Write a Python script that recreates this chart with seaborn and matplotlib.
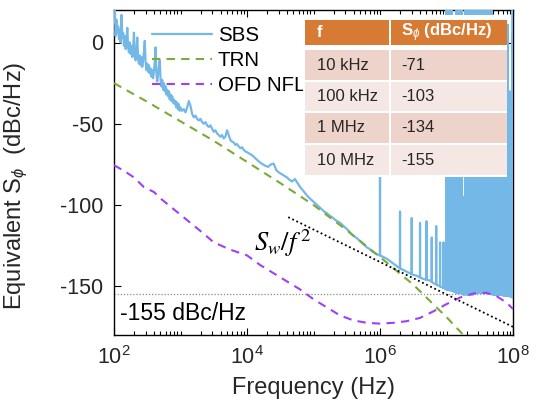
import numpy as np
import matplotlib
matplotlib.use("Agg")
import matplotlib.pyplot as plt
import seaborn as sns
from matplotlib.ticker import LogLocator, FixedLocator, NullFormatter, LogFormatterMathtext
from matplotlib.patches import Rectangle

# ---------------- data ----------------
# SBS phase-noise trace: log10(frequency) segments and dBc/Hz values
sbs_seg1_db = [12, 20, 4, 14, 6, 10, 2, 8, 0, 17, 3, 6, -2, 4, -4, 1, 9, -3, -6, 0,
               -7, -2, -9, -4, 6, -8, -11, -5, 3, -10, -13, -8, -14, -9, -15, -11, -6, 1, -12, -17,
               -13, -18, -14, -19, -16, -21, -17, -22, -18, -12, -3, -19, -24, -20, -15, -11, -22, -27, -23, -29,
               -25, -30, -27, -32, -29, -33, -30, -35, -32, -36, -33, -37, -35, -38, -36, -40, -37, -41, -38, -42,
               -40]  # log f 2.0 .. 3.0
sbs_seg2_db = [-42, -41, -43, -40, -36, -39, -44, -46, -45, -47, -48, -47, -49, -50, -49, -51, -52, -51, -53, -55,
               -54, -56, -57, -58, -57, -59, -58, -54, -57, -60, -61, -61.5, -63, -62.5, -64, -65, -64.5, -66, -67, -67.5]  # 3.025 .. 4.0
sbs_seg3_db = [-68.5, -69.5, -71, -72.5, -74, -75, -76, -76.5, -75, -74.5, -78.5, -80, -81, -82, -83, -84.5, -85.5, -84, -86.5, -89,
               -91, -93, -95, -96.5, -98, -99.5, -101, -102.5, -104, -105, -106.5, -107.5, -109, -110, -111, -112.5, -114, -115.5, -117.5, -119,
               -120, -121.5, -123, -124.5, -126, -127, -128.5, -129.5, -130.5, -131]  # 4.04 .. 6.0
sbs_seg4_db = [-132, -133, -134.5, -136, -137.5, -139, -140, -141, -142, -143, -143.5, -144.5, -145.5, -146, -146.5, -148, -149, -150, -151, -152,
               -152.5, -153, -154, -154, -155, -155, -155, -155, -154, -154, -154, -154, -154.5, -155, -155, -155, -155.5, -156, -156, -157]  # 6.05 .. 8.0
sbs_logf = np.concatenate([np.linspace(2.0, 3.0, 81), np.linspace(3.025, 4.0, 40),
                           np.linspace(4.04, 6.0, 50), np.linspace(6.05, 8.0, 40)])
sbs_db = np.array(sbs_seg1_db + sbs_seg2_db + sbs_seg3_db + sbs_seg4_db, dtype=float)

# SBS spurs at harmonics of 1 MHz (peak level, dBc/Hz)
spur_mhz = list(range(1, 101))
spur_top = [-82, -104, -108, -111, -110, -120, -113, -123, -123,
            25, 25, 25, -60, 25, 25, 25, 25, -95, 25,
            25, 25, 25, -40, 25, 25, 25, 25, 25, -70,
            25, 25, 25, 25, -50, 25, 25, 25, 25, 25,
            -30, 25, 25, 25, 25, 25, 25, -10, 25, -20,
            -15, -40, -25, -60, -30, -45, -20, -70, -35, -50,
            -30, -55, -25, -45, -60, -35, -50, -20, -40, -65,
            -30, -45, -55, -25, -50, -40, -60, -30, -45, -35,
            -55, -40, -20, 11, -45, -35, -60, -30, -50, -40,
            -55, -35, -45, -60, -30, -50, -40, -20, 5, 25, -70]

# Thermorefractive noise (TRN)
trn_logf = [2.0, 2.5, 3.0, 3.5, 4.0, 4.5, 5.0, 5.5, 6.0, 6.5, 7.0, 7.3]
trn_db = [-25, -36.5, -48.5, -60.5, -73.5, -86.5, -100, -115.5, -132, -149, -169, -182]

# OFD noise floor
ofd_logf = [2.0, 2.15, 2.3, 2.45, 2.6, 2.7, 2.85, 3.0, 3.15, 3.3, 3.5, 3.75, 4.0, 4.2, 4.4, 4.6, 4.8,
            5.0, 5.2, 5.4, 5.6, 5.8, 6.0, 6.2, 6.4, 6.6, 6.8, 7.0, 7.2, 7.4, 7.6, 7.75, 7.9, 8.0]
ofd_db = [-75.5, -79, -83, -89, -92, -96, -101, -106, -111, -116, -123, -127.5, -131, -137, -142, -147, -152,
          -158, -163, -168, -171, -172.5, -173, -172.5, -171.5, -169.5, -165.5, -161, -157, -154.5, -154, -156, -160, -164]

# S_w / f^2 asymptote
sw_logf = [4.62, 8.0]
sw_db = [-107.5, -175]

floor_db = -155
floor_label = "-155 dBc/Hz"

table_freq = ["10 kHz", "100 kHz", "1 MHz", "10 MHz"]
table_val = ["-71", "-103", "-134", "-155"]
table_head = ["f", r"S$_{\phi}$ (dBc/Hz)"]

xticks = [1e2, 1e4, 1e6, 1e8]
yticks = [-150, -100, -50, 0]

# ---------------- build SBS trace with spurs ----------------
base_f = 10 ** sbs_logf
spur_f = np.array(spur_mhz, dtype=float) * 1e6
w = 0.002
keep = np.ones_like(base_f, dtype=bool)
for sf in spur_f:
    keep &= np.abs(base_f - sf) > 1.5 * w * sf
bf = base_f[keep]
bd = sbs_db[keep]
foot = np.interp(np.log10(spur_f), sbs_logf, sbs_db)
xs = np.concatenate([bf, spur_f * (1 - w), spur_f, spur_f * (1 + w)])
ys = np.concatenate([bd, foot, np.array(spur_top, dtype=float), foot])
order = np.argsort(xs, kind="stable")
xs, ys = xs[order], ys[order]

# ---------------- style ----------------
sns.set_theme(style="ticks")
plt.rcParams["font.family"] = ["Liberation Sans", "DejaVu Sans"]
plt.rcParams["mathtext.fontset"] = "custom"
plt.rcParams["mathtext.rm"] = "Liberation Sans"
plt.rcParams["mathtext.it"] = "Liberation Sans:italic"
plt.rcParams["mathtext.bf"] = "Liberation Sans:bold"
plt.rcParams["axes.unicode_minus"] = False
txt = "#262626"

W, H = 545, 413
fig = plt.figure(figsize=(W / 100, H / 100), dpi=100)
def fx(px): return px / W
def fy(py): return 1 - py / H
ax = fig.add_axes([fx(114), fy(335), (513 - 114) / W, (335 - 10) / H])

c_sbs = "#74B8E8"
c_trn = "#7BAA35"
c_ofd = "#A040F5"

sns.lineplot(x=xs, y=ys, ax=ax, color=c_sbs, lw=1.6, estimator=None, sort=False, label="SBS", zorder=3)
sns.lineplot(x=10 ** np.array(trn_logf), y=trn_db, ax=ax, color=c_trn, lw=1.5, estimator=None,
             sort=False, label="TRN", dashes=False, zorder=4)
sns.lineplot(x=10 ** np.array(ofd_logf), y=ofd_db, ax=ax, color=c_ofd, lw=1.5, estimator=None,
             sort=False, label="OFD NFL", dashes=False, zorder=4)
ax.lines[1].set_dashes((4, 3))
ax.lines[2].set_dashes((4, 3))
sns.lineplot(x=10 ** np.array(sw_logf), y=sw_db, ax=ax, color="black", lw=1.3, estimator=None,
             sort=False, zorder=5)
ax.lines[3].set_linestyle((0, (1, 1.5)))
ax.axhline(floor_db, color="#8a8a8a", lw=0.9, ls=(0, (1, 1.5)), zorder=2)

ax.set_xscale("log")
ax.set_xlim(1e2, 1e8)
ax.set_ylim(-180, 20)
ax.xaxis.set_major_locator(FixedLocator(xticks))
ax.xaxis.set_major_formatter(LogFormatterMathtext())
ax.xaxis.set_minor_locator(LogLocator(base=10, subs=np.arange(1, 10) * 1.0, numticks=100))
ax.xaxis.set_minor_formatter(NullFormatter())
ax.set_yticks(yticks)
ax.tick_params(axis="both", which="both", direction="in", top=True, right=True,
               colors="black", labelcolor=txt, labelsize=15.5, width=0.8)
ax.tick_params(axis="both", which="major", length=5, pad=8)
ax.tick_params(axis="both", which="minor", length=3)
for s in ax.spines.values():
    s.set_color("black")
    s.set_linewidth(1.0)

ax.set_xlabel("Frequency (Hz)", fontsize=17, color=txt, labelpad=6)
ax.set_ylabel(r"Equivalent S$_{\phi}$  (dBc/Hz)", fontsize=17, color=txt)
ax.yaxis.set_label_coords(-0.21, 0.46)

ax.text(10 ** 2.09, -167, floor_label, fontsize=16.5, color="black", ha="left", va="center")
ax.text(10 ** 4.53, -123.5, r"$S_w/f^{\,2}$", math_fontfamily="stix", fontsize=19, color="black",
        ha="center", va="center")

leg = ax.legend(loc="upper left", bbox_to_anchor=((152 - 114) / 399, (335 - 26) / 325), frameon=False,
                fontsize=14.8, handlelength=2.9, handletextpad=0.3, labelspacing=0.3,
                borderpad=0, borderaxespad=0)
for t in leg.get_texts():
    t.set_color("black")

# ---------------- inset table ----------------
def rect(l, t, r, b, color, z=10):
    fig.add_artist(Rectangle((fx(l), fy(b)), (r - l) / W, (b - t) / H, transform=fig.transFigure,
                             facecolor=color, edgecolor="none", zorder=z))

rect(303, 15, 507, 177, "white", z=9)
c_head = "#D77B34"
c_dark = "#EDD3CA"
c_light = "#F5E8E4"
cols = [(305, 389), (391, 507)]
rows = [(20, 45), (50, 80), (82, 111), (113, 143), (145, 175)]
for i, (t, b) in enumerate(rows):
    col = c_head if i == 0 else (c_dark if i % 2 == 1 else c_light)
    for (l, r) in cols:
        rect(l, t, r, b, col)
tx = [317, 401]
cy = [(t + b) / 2 for t, b in rows]
for j in range(2):
    fig.text(fx(tx[j]), fy(cy[0]), table_head[j], color="white", fontsize=12, fontweight="bold",
             ha="left", va="center", zorder=11)
for i in range(4):
    fig.text(fx(tx[0]), fy(cy[i + 1]), table_freq[i], color=txt, fontsize=12, ha="left", va="center", zorder=11)
    fig.text(fx(tx[1]), fy(cy[i + 1]), table_val[i], color=txt, fontsize=12, ha="left", va="center", zorder=11)

fig.savefig("out.png", dpi=100)
